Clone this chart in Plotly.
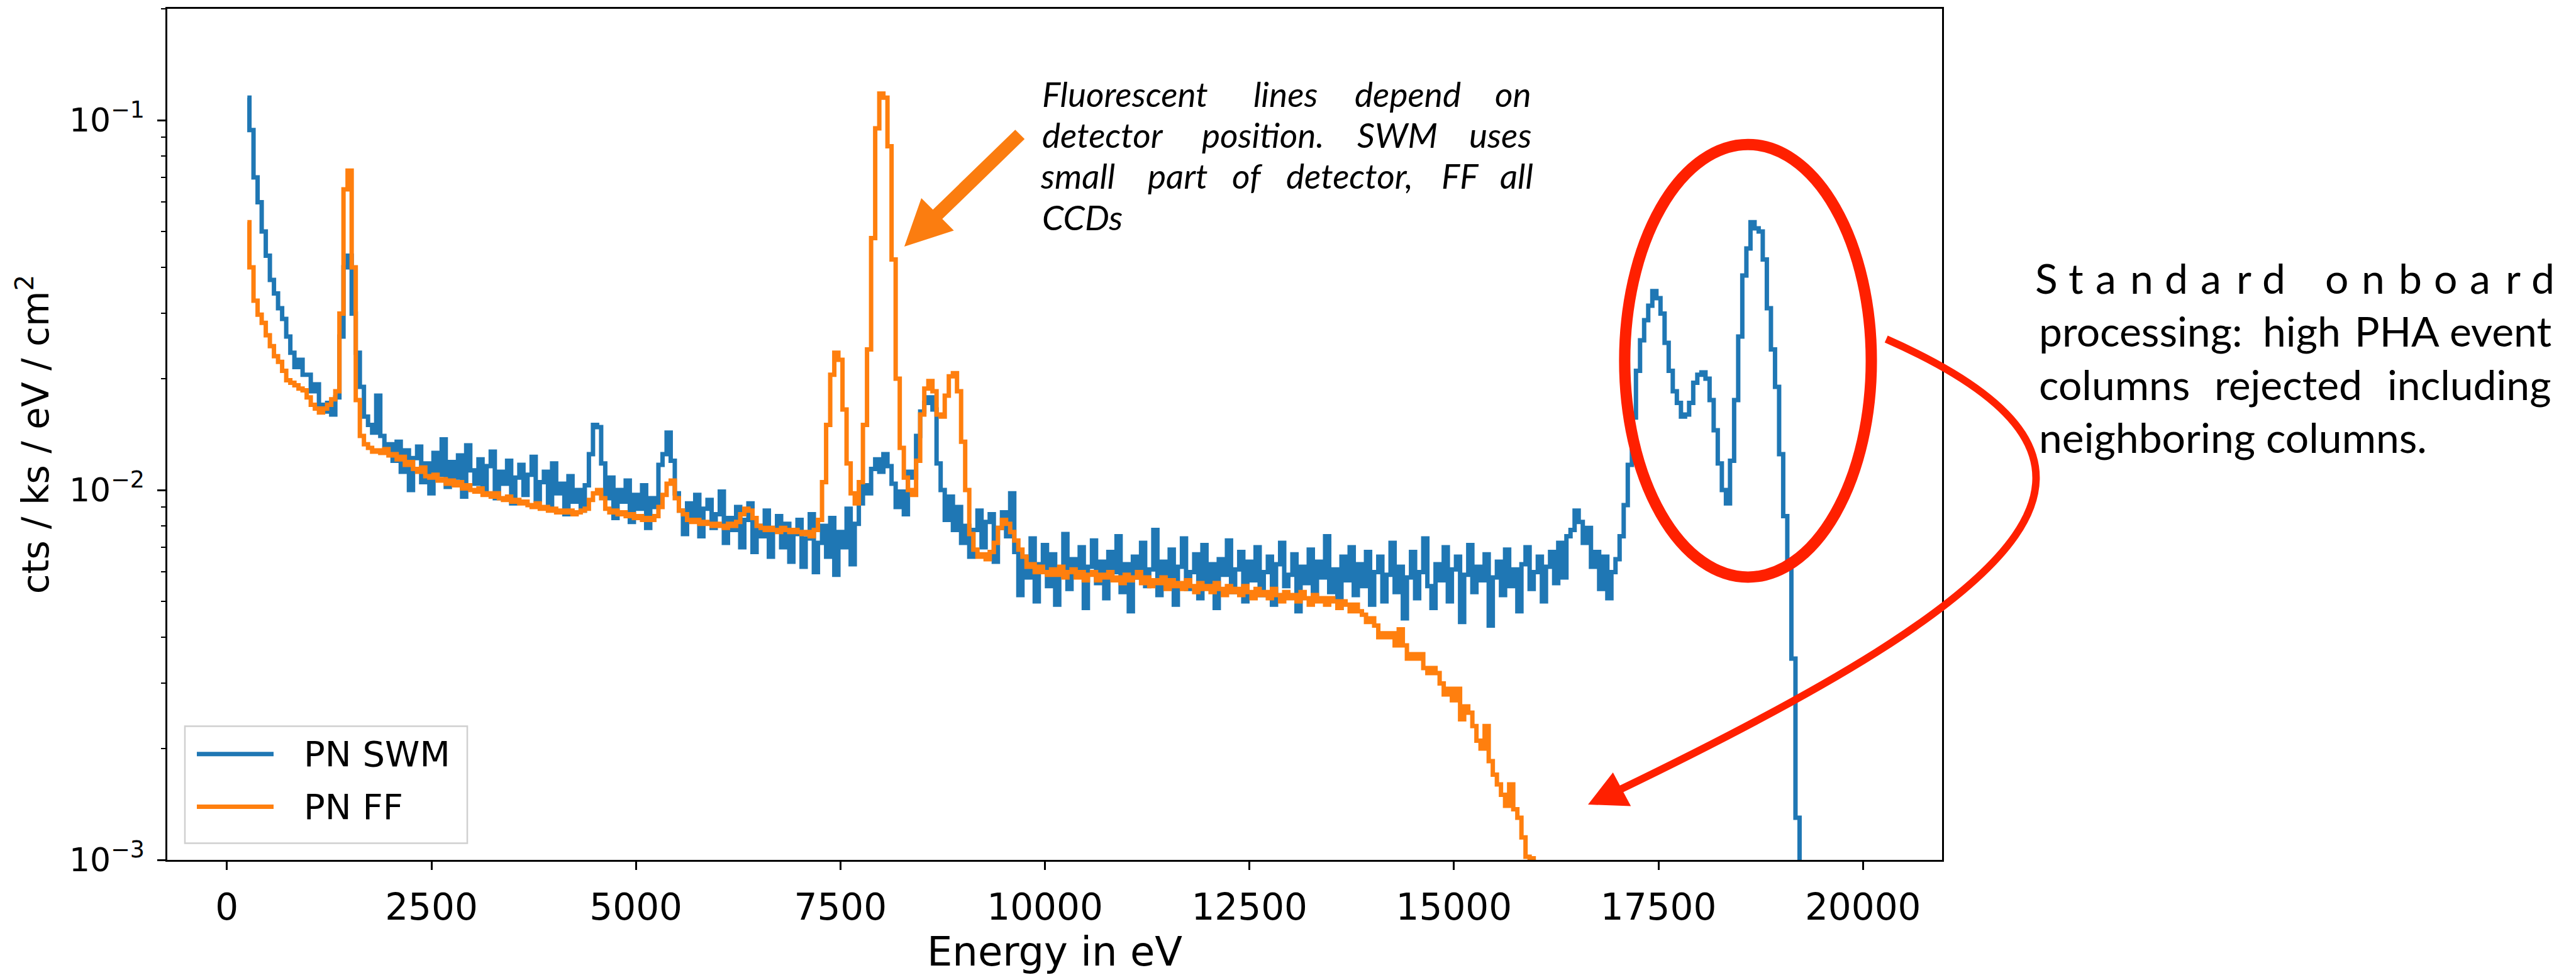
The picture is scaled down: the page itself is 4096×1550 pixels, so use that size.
import numpy as np
import plotly.graph_objects as go

# ---------------- data (cts / ks / eV / cm^2) ----------------
E_STEP = 50  # eV per bin

# PN SWM (blue), segments starting at the given energy
swm_0250 = [0.115, 0.094, 0.070, 0.060, 0.050, 0.043, 0.037, 0.034, 0.031, 0.029,
            0.026, 0.0235, 0.0215, 0.0225, 0.0205, 0.0205, 0.0185, 0.0193, 0.0170, 0.0163,
            0.0172, 0.0160, 0.0178, 0.026, 0.040, 0.043, 0.030, 0.0235, 0.0190, 0.0158,
            0.0150, 0.0143, 0.0180, 0.0140, 0.0128, 0.0133, 0.0120]
swm_2100 = [0.0135, 0.0112, 0.0128, 0.0100, 0.0122, 0.0131, 0.0105, 0.0118, 0.0098, 0.0126,
            0.0110, 0.0137, 0.0102, 0.0119, 0.0108, 0.0124, 0.0096, 0.0132, 0.0113, 0.0104,
            0.0121, 0.0099, 0.0116, 0.0127, 0.0095, 0.0112, 0.0104, 0.0120, 0.0092, 0.0108,
            0.0117, 0.0097, 0.0110, 0.0123, 0.0094, 0.0105, 0.0112, 0.0089, 0.0118, 0.0098,
            0.0104, 0.0086, 0.0109, 0.0093, 0.0100]
swm_4350 = [0.0088, 0.0103, 0.0125, 0.0150, 0.0148, 0.0118, 0.0095, 0.0108, 0.0084, 0.0100,
            0.0093, 0.0106, 0.0082, 0.0097, 0.0089, 0.0103, 0.0079, 0.0095, 0.0090, 0.0117,
            0.0125, 0.0143, 0.0120, 0.0098, 0.0088, 0.0076, 0.0092, 0.0083, 0.0097, 0.0075,
            0.0089, 0.0094, 0.0079, 0.0086, 0.0099, 0.0072, 0.0084, 0.0078, 0.0090, 0.0070,
            0.0083, 0.0092, 0.0068, 0.0080, 0.0075, 0.0088, 0.0066, 0.0079, 0.0085, 0.0070,
            0.0081, 0.0064, 0.0076, 0.0083, 0.0062, 0.0074, 0.0086, 0.0060, 0.0072, 0.0080,
            0.0066, 0.0084, 0.0059, 0.0077, 0.0070, 0.0089, 0.0063, 0.0081, 0.0092, 0.0103,
            0.0098, 0.0114, 0.0121, 0.0112, 0.0125, 0.0116, 0.0104, 0.0090, 0.0099, 0.0086,
            0.0112, 0.0108, 0.0140, 0.0163, 0.0172, 0.0178, 0.0165, 0.0118, 0.0100, 0.0083,
            0.0096, 0.0078, 0.0090, 0.0072]
swm_9050 = [0.0080, 0.0066, 0.0078, 0.0088, 0.0070, 0.0082, 0.0086, 0.0064, 0.0079, 0.0087,
            0.0075, 0.0098, 0.0068]
swm_9700 = [0.0052, 0.0066, 0.0058, 0.0074, 0.0050, 0.0063, 0.0071, 0.0055, 0.0067, 0.0049,
            0.0061, 0.0076, 0.0054, 0.0065, 0.0059, 0.0070, 0.0048, 0.0062, 0.0073, 0.0056,
            0.0064, 0.0051, 0.0068, 0.0060, 0.0075, 0.0053, 0.0063, 0.0047, 0.0066, 0.0058,
            0.0072, 0.0055, 0.0061, 0.0078, 0.0052, 0.0064, 0.0057, 0.0069, 0.0049, 0.0062,
            0.0074, 0.0054, 0.0060, 0.0067, 0.0051, 0.0071, 0.0056, 0.0063, 0.0048, 0.0065,
            0.0059, 0.0073, 0.0053, 0.0061, 0.0068, 0.0050, 0.0064, 0.0057, 0.0070, 0.0052,
            0.0060, 0.0066, 0.0049, 0.0063, 0.0072, 0.0055, 0.0059, 0.0067, 0.0047, 0.0062,
            0.0056, 0.0069, 0.0051, 0.0064, 0.0058, 0.0075, 0.0053, 0.0061, 0.0048, 0.0066,
            0.0057, 0.0070, 0.0052, 0.0063, 0.0055, 0.0068, 0.0049, 0.0060]
swm_14100 = [0.0066, 0.0050, 0.0059, 0.0072, 0.0053, 0.0062, 0.0045, 0.0058, 0.0068, 0.0051,
             0.0060, 0.0074, 0.0055, 0.0048, 0.0063, 0.0057, 0.0070, 0.0050, 0.0061, 0.0066,
             0.0044, 0.0059, 0.0071, 0.0053, 0.0062, 0.0057, 0.0067, 0.0043, 0.0058, 0.0064,
             0.0052, 0.0069, 0.0055, 0.0061, 0.0047, 0.0063, 0.0070, 0.0054, 0.0060, 0.0066,
             0.0050, 0.0062, 0.0068, 0.0056, 0.0072, 0.0058, 0.0075]
swm_16450 = [0.0078, 0.0088, 0.0082, 0.0072, 0.0079, 0.0062, 0.0068, 0.0054, 0.0066, 0.0051,
             0.0060, 0.0065, 0.0075, 0.0091, 0.0117, 0.0157, 0.0210, 0.0254, 0.0288, 0.0315,
             0.0345, 0.0330, 0.0300, 0.0250, 0.0210, 0.0185, 0.0172, 0.0158, 0.0160, 0.0172,
             0.0195, 0.0205, 0.0208, 0.0200, 0.0175, 0.0145, 0.0118, 0.0100, 0.0092, 0.0120,
             0.0175, 0.0260, 0.0380, 0.0450, 0.0530, 0.0510, 0.0500, 0.0420, 0.0310, 0.0240,
             0.0190, 0.0125, 0.0085, 0.0062, 0.0035, 0.0013, 0.0007]

# PN FF (orange)
ff_0250 = [0.053, 0.040, 0.0325, 0.0298, 0.0283, 0.0262, 0.0245, 0.0230, 0.0222, 0.0210,
           0.0198, 0.0195, 0.0192, 0.0188, 0.0186, 0.0178, 0.0170, 0.0166, 0.0162, 0.0166,
           0.0170, 0.0176]
ff_1350 = [0.0185, 0.030, 0.065, 0.073, 0.040, 0.0175, 0.0140]
ff_1700 = [0.0133, 0.0130, 0.0127, 0.0128, 0.0126, 0.0129, 0.0124, 0.0125, 0.0121, 0.0123,
           0.0117, 0.0119, 0.0114, 0.0112, 0.0115, 0.0109, 0.0108, 0.0110, 0.0106, 0.0107,
           0.0104, 0.0106, 0.0103, 0.0105, 0.0101, 0.0103, 0.0100, 0.0099, 0.0101, 0.0097,
           0.0098, 0.0096, 0.0098, 0.0095, 0.0094, 0.0096, 0.0093, 0.0094, 0.0092, 0.0093,
           0.0091, 0.0090, 0.0092, 0.0089, 0.0090, 0.0088, 0.0089, 0.0087, 0.0088, 0.0087,
           0.0088, 0.0086, 0.0087]
ff_4350 = [0.0088, 0.0089, 0.0094, 0.0098, 0.0100, 0.0095, 0.0089, 0.0087, 0.0088, 0.0086,
           0.0087, 0.0085, 0.0086, 0.0084, 0.0085, 0.0083, 0.0084, 0.0083, 0.0085, 0.0090,
           0.0097, 0.0104, 0.0106, 0.0095, 0.0088, 0.0086, 0.0083, 0.0082, 0.0083, 0.0081,
           0.0082, 0.0081, 0.0080, 0.0081, 0.0080, 0.0079, 0.0081, 0.0080, 0.0082, 0.0086,
           0.0089, 0.0088, 0.0084, 0.0080, 0.0079, 0.0078, 0.0079, 0.0078, 0.0077, 0.0079,
           0.0078, 0.0077, 0.0078, 0.0077, 0.0076, 0.0077, 0.0075, 0.0078, 0.0083, 0.0105,
           0.0150, 0.0205, 0.0235, 0.0225, 0.0165, 0.0118, 0.0098, 0.0092, 0.0105, 0.0150,
           0.0240, 0.0480, 0.0950, 0.1180, 0.1150, 0.0850, 0.0420, 0.0200, 0.0130, 0.0108,
           0.0100, 0.0097, 0.0120, 0.0160, 0.0188, 0.0197, 0.0185, 0.0160, 0.0158, 0.0180,
           0.0203, 0.0207, 0.0185, 0.0135, 0.0100, 0.0076, 0.0069]
ff_9200 = [0.0066, 0.0067, 0.0065, 0.0068, 0.0072, 0.0079, 0.0083, 0.0081, 0.0077, 0.0073,
           0.0069, 0.0066, 0.0062, 0.0063, 0.0060, 0.0062, 0.0060, 0.0059, 0.0061, 0.0059,
           0.0062, 0.0058, 0.0060, 0.0061, 0.0058, 0.0060, 0.0057, 0.0059, 0.0060, 0.0057,
           0.0059, 0.0058, 0.0060, 0.0057, 0.0058, 0.0056, 0.0059, 0.0057, 0.0058, 0.0060,
           0.0056, 0.0058, 0.0055, 0.0057, 0.0056, 0.0058, 0.0054, 0.0057, 0.0055, 0.0056,
           0.0054, 0.0057, 0.0055, 0.0053, 0.0056, 0.0054, 0.0055, 0.0053, 0.0056, 0.0054,
           0.0052, 0.0055, 0.0053, 0.0054, 0.0052, 0.0055, 0.0053, 0.0051, 0.0054, 0.0052,
           0.0053, 0.0051, 0.0054, 0.0052, 0.0050, 0.0053, 0.0051, 0.0052, 0.0050, 0.0053,
           0.0051, 0.0049, 0.0052, 0.0050, 0.0051, 0.0049, 0.0051, 0.0050, 0.0048, 0.0050,
           0.0049, 0.0047, 0.0049, 0.0047, 0.0046, 0.0044, 0.0045, 0.0043]
ff_14100 = [0.0040, 0.0041, 0.0040, 0.0041, 0.0038, 0.0042, 0.0038, 0.0035, 0.0036, 0.0035,
            0.0036, 0.0033, 0.0032, 0.0033, 0.0032, 0.0030, 0.0028, 0.0029, 0.0027, 0.0029,
            0.0024, 0.0026, 0.0025, 0.0023, 0.0021, 0.0020, 0.0023, 0.00185, 0.0017, 0.0016,
            0.0015, 0.0014, 0.0016, 0.00137, 0.0013, 0.00115, 0.00102, 0.00101, 0.0008]

swm_segments = [(250, swm_0250), (2100, swm_2100), (4350, swm_4350), (9050, swm_9050),
                (9700, swm_9700), (14100, swm_14100), (16450, swm_16450)]
ff_segments = [(250, ff_0250), (1350, ff_1350), (1700, ff_1700), (4350, ff_4350),
               (9200, ff_9200), (14100, ff_14100)]

x_tick_values = [0, 2500, 5000, 7500, 10000, 12500, 15000, 17500, 20000]
x_tick_labels = ["0", "2500", "5000", "7500", "10000", "12500", "15000", "17500", "20000"]
y_tick_values = [1e-3, 1e-2, 1e-1]
y_tick_labels = ["10<sup>\u22123</sup>", "10<sup>\u22122</sup>", "10<sup>\u22121</sup>"]


def build(segments):
    xs, ys = [], []
    for start, vals in segments:
        xs += [start + E_STEP * i for i in range(len(vals))]
        ys += list(vals)
    return xs, ys


e_swm, c_swm = build(swm_segments)
e_ff, c_ff = build(ff_segments)

# ---------------- layout geometry ----------------
W, H = 4096, 1550
S = 0.817                       # reference -> output scale
L, R, T, B = 266, 3088, 11, 1387  # plot area in output px


def pp(xf, yf):
    """reference (full-size) pixel -> paper coords"""
    return (xf * S - L) / (R - L), (B - yf * S) / (B - T)


def po(xo, yo):
    """output pixel -> paper coords"""
    return (xo - L) / (R - L), (B - yo) / (B - T)


def path_from(points, close=True):
    s = ""
    for i, (x, y) in enumerate(points):
        px_, py_ = pp(x, y)
        s += ("M" if i == 0 else "L") + f"{px_:.5f},{py_:.5f}"
    return s + ("Z" if close else "")


BLUE = "#1f77b4"
ORANGE = "#ff7f0e"
RED = "#ff2000"
AX_FONT = "DejaVu Sans"
NOTE_FONT = "Lato"

fig = go.Figure()
fig.add_trace(go.Scatter(x=e_swm, y=c_swm, mode="lines", name="PN SWM",
                         line=dict(color=BLUE, width=7, shape="hvh")))
fig.add_trace(go.Scatter(x=e_ff, y=c_ff, mode="lines", name="PN FF",
                         line=dict(color=ORANGE, width=7, shape="hvh")))

minor_vals = [m * 10.0 ** d for d in (-3, -2, -1) for m in range(2, 10)] + [0.2]

fig.update_layout(
    width=W, height=H,
    margin=dict(l=L, r=W - R, t=T, b=H - B, pad=0),
    paper_bgcolor="white", plot_bgcolor="white",
    showlegend=False,
    font=dict(family=AX_FONT, color="black"),
    xaxis=dict(
        range=[-729, 20967], tickmode="array", tickvals=x_tick_values, ticktext=x_tick_labels,
        ticks="outside", ticklen=13, tickwidth=2.5, tickcolor="black",
        showline=True, linecolor="black", linewidth=2.5, mirror=True,
        showgrid=False, zeroline=False,
        tickfont=dict(family=AX_FONT, size=58, color="black"),
        ticklabelstandoff=10,
        title=dict(text="Energy in eV", font=dict(family=AX_FONT, size=64, color="black"),
                   standoff=18),
    ),
    yaxis=dict(
        type="log", range=[-3, np.log10(0.2)], tickmode="array",
        tickvals=y_tick_values, ticktext=y_tick_labels,
        ticks="outside", ticklen=13, tickwidth=2.5, tickcolor="black",
        minor=dict(tickmode="array", tickvals=minor_vals, ticks="outside",
                   ticklen=7, tickwidth=2, tickcolor="black", showgrid=False),
        showline=True, linecolor="black", linewidth=2.5, mirror=True,
        showgrid=False, zeroline=False,
        tickfont=dict(family=AX_FONT, size=52, color="black"),
        ticklabelstandoff=10,
        title=dict(text="cts / ks / eV / cm<sup>2</sup>",
                   font=dict(family=AX_FONT, size=58, color="black"), standoff=14),
    ),
)

shapes = []
annotations = []

# ---------------- custom legend ----------------
lx0, ly0 = po(294, 1171)
lx1, ly1 = po(743, 1360)
shapes.append(dict(type="rect", xref="paper", yref="paper", x0=lx0, y0=ly1, x1=lx1, y1=ly0,
                   line=dict(color="#d0d0d0", width=2.5), fillcolor="rgba(255,255,255,0.8)"))
for name, color, yo in (("PN SWM", BLUE, 1216), ("PN FF", ORANGE, 1301)):
    a0, b0 = po(313, yo)
    a1, _ = po(435, yo)
    shapes.append(dict(type="line", xref="paper", yref="paper", x0=a0, y0=b0, x1=a1, y1=b0,
                       line=dict(color=color, width=7)))
    tx, ty = po(481, yo)
    annotations.append(dict(text=name, x=tx, y=ty, xref="paper", yref="paper",
                            xanchor="left", yanchor="middle", showarrow=False,
                            font=dict(family=AX_FONT, size=56, color="black")))

# ---------------- orange block arrow ----------------
tail = np.array([1985.0, 262.0])
tip = np.array([1760.0, 484.0])
d = (tip - tail) / np.linalg.norm(tip - tail)
n = np.array([-d[1], d[0]])
base = tip - d * 91
pts = [tail + n * 13, base + n * 13, base + n * 45, tip, base - n * 45, base - n * 13, tail - n * 13]
shapes.append(dict(type="path", xref="paper", yref="paper", path=path_from(pts),
                   fillcolor="#fb7d10", line=dict(width=0)))

# ---------------- red ellipse ----------------
ex0, ey0 = pp(3402 - 240, 710 + 428)
ex1, ey1 = pp(3402 + 240, 710 - 428)
shapes.append(dict(type="circle", xref="paper", yref="paper", x0=ex0, y0=ey0, x1=ex1, y1=ey1,
                   line=dict(color=RED, width=18)))

# ---------------- red curved arrow ----------------
P0 = pp(3671, 667)
P1 = pp(4221, 914)
P2 = pp(3963, 1161)
P3 = pp(3150, 1560)
curve = (f"M{P0[0]:.5f},{P0[1]:.5f} C{P1[0]:.5f},{P1[1]:.5f} "
         f"{P2[0]:.5f},{P2[1]:.5f} {P3[0]:.5f},{P3[1]:.5f}")
shapes.append(dict(type="path", xref="paper", yref="paper", path=curve,
                   line=dict(color=RED, width=12)))
shapes.append(dict(type="path", xref="paper", yref="paper",
                   path=path_from([(3093, 1587), (3139, 1527), (3172, 1590)]),
                   fillcolor=RED, line=dict(color=RED, width=2)))

# ---------------- italic note (justified, word by word) ----------------
fs_i = 55
note_lines = [
    (207, [("Fluorescent", 2026, "left"), ("lines", 2502, "center"),
           ("depend", 2740, "center"), ("on", 2983, "right")]),
    (288, [("detector", 2026, "left"), ("position.", 2458, "center"),
           ("SWM", 2720, "center"), ("uses", 2983, "right")]),
    (370, [("small", 2022, "left"), ("part", 2292, "center"), ("of", 2428, "center"),
           ("detector,", 2627, "center"), ("FF", 2841, "center"), ("all", 2986, "right")]),
    (452, [("CCDs", 2026, "left")]),
]
for base_y, words in note_lines:
    yo = base_y * S - 0.387 * fs_i
    for w, xf, anc in words:
        px_, py_ = po(xf * S, yo)
        annotations.append(dict(text=f"<i>{w}</i>", x=px_, y=py_, xref="paper", yref="paper",
                                xanchor=anc, yanchor="middle", showarrow=False,
                                font=dict(family=NOTE_FONT, size=fs_i, color="black")))

# ---------------- right note ----------------
fs_r = 66
letters = "Standardonboard"
letter_x = [3983, 4041, 4099, 4168, 4236, 4303, 4367, 4425,
            4548, 4619, 4691, 4760, 4827, 4891, 4949]
right_lines = [
    (682, [("processing:", 3966, "left"), ("high", 4480, "center"),
           ("PHA", 4665, "center"), ("event", 4968, "right")]),
    (787, [("columns", 3966, "left"), ("rejected", 4453, "center"),
           ("including", 4968, "right")]),
    (892, [("neighboring columns.", 3966, "left")]),
]
yo = 577 * S - 0.387 * fs_r
for ch, xf in zip(letters, letter_x):
    px_, py_ = po(xf * S, yo)
    annotations.append(dict(text=ch, x=px_, y=py_, xref="paper", yref="paper",
                            xanchor="center", yanchor="middle", showarrow=False,
                            font=dict(family=NOTE_FONT, size=fs_r, color="black")))
for base_y, words in right_lines:
    yo = base_y * S - 0.387 * fs_r
    for w, xf, anc in words:
        px_, py_ = po(xf * S, yo)
        annotations.append(dict(text=w, x=px_, y=py_, xref="paper", yref="paper",
                                xanchor=anc, yanchor="middle", showarrow=False,
                                font=dict(family=NOTE_FONT, size=fs_r, color="black")))

fig.update_layout(shapes=shapes, annotations=annotations)
fig.write_html("out.html")
